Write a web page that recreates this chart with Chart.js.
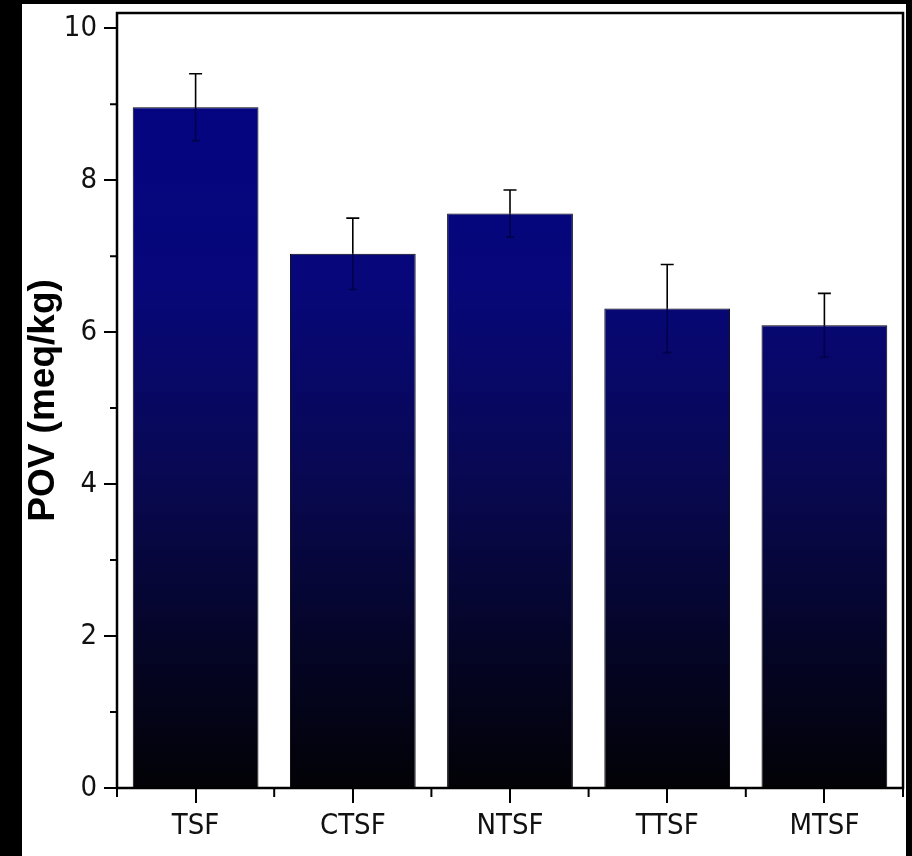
<!DOCTYPE html>
<html>
<head>
<meta charset="utf-8">
<script src="https://cdn.jsdelivr.net/npm/chart.js@4.4.0/dist/chart.umd.min.js"></script>
<style>
  html, body { margin: 0; padding: 0; background: #000; }
  body { width: 912px; height: 856px; position: relative; overflow: hidden; }
  .chart { position: absolute; left: 22px; top: 4px; width: 884px; height: 852px; background: #fff; }
</style>
</head>
<body>
<div class="chart"><canvas></canvas></div>
<script>
const categories = ['TSF', 'CTSF', 'NTSF', 'TTSF', 'MTSF']
const povValues = [8.96, 7.03, 7.56, 6.31, 6.09]
const povErrors = [0.44, 0.47, 0.31, 0.58, 0.42]
const yTicks = [0, 2, 4, 6, 8, 10]
const yMinorTicks = [1, 3, 5, 7, 9]

const canvas = document.querySelector('.chart canvas')
const canvasCtx = canvas.getContext('2d')

const tickFont = { family: '"DejaVu Sans Condensed", "Liberation Sans", Arial, sans-serif', size: 29 }

function barGradient(context) {
    const area = context.chart.chartArea
    if (!area) return '#050580'
    const g = context.chart.ctx.createLinearGradient(0, area.top, 0, area.bottom)
    g.addColorStop(0, '#030384')
    g.addColorStop(0.35, '#07077a')
    g.addColorStop(0.6, '#080852')
    g.addColorStop(0.8, '#05052a')
    g.addColorStop(1, '#020206')
    return g
}

// error bars, minor ticks and the box round the plot
const extras = {
    id: 'extras',
    afterDatasetsDraw(chart) {
        const ctx = chart.ctx
        const y = chart.scales.y
        const meta = chart.getDatasetMeta(0)
        ctx.save()
        ctx.lineWidth = 1.6
        meta.data.forEach((bar, i) => {
            const top = y.getPixelForValue(povValues[i] + povErrors[i])
            const bot = y.getPixelForValue(povValues[i] - povErrors[i])
            // upper half, black on white
            ctx.strokeStyle = '#000'
            ctx.beginPath()
            ctx.moveTo(bar.x, top)
            ctx.lineTo(bar.x, bar.y)
            ctx.moveTo(bar.x - 6.5, top)
            ctx.lineTo(bar.x + 6.5, top)
            ctx.stroke()
            // lower half sits inside the bar
            ctx.strokeStyle = '#02024a'
            ctx.beginPath()
            ctx.moveTo(bar.x, bar.y)
            ctx.lineTo(bar.x, bot)
            ctx.moveTo(bar.x - 4, bot)
            ctx.lineTo(bar.x + 4, bot)
            ctx.stroke()
        })
        ctx.restore()
    },
    afterDraw(chart) {
        const ctx = chart.ctx
        const a = chart.chartArea
        const x = chart.scales.x
        const y = chart.scales.y
        ctx.save()
        ctx.strokeStyle = '#000'
        ctx.lineWidth = 2
        ctx.beginPath()
        yMinorTicks.forEach(v => {
            const py = y.getPixelForValue(v)
            ctx.moveTo(a.left, py)
            ctx.lineTo(a.left - 7, py)
        })
        for (let i = 0; i <= categories.length; i++) {
            const px = x.getPixelForValue(i - 0.5)
            ctx.moveTo(px, a.bottom)
            ctx.lineTo(px, a.bottom + 9)
        }
        ctx.stroke()
        ctx.lineWidth = 2.5
        ctx.strokeRect(a.left, a.top, a.right - a.left, a.bottom - a.top)
        ctx.restore()
    }
}

const myChart = new Chart(canvasCtx, {
    type: 'bar',
    data: {
        labels: categories,
        datasets: [{
            data: povValues,
            backgroundColor: barGradient,
            borderColor: '#000',
            borderWidth: 1,
            barPercentage: 0.8,
            categoryPercentage: 1
        }]
    },
    plugins: [extras],
    options: {
        responsive: true,
        maintainAspectRatio: false,
        animation: false,
        layout: { padding: { top: 9, right: 3, left: 0, bottom: 0 } },
        plugins: {
            legend: { display: false },
            tooltip: { enabled: false }
        },
        scales: {
            x: {
                grid: { offset: false, drawOnChartArea: false, tickLength: 15, tickColor: '#000', lineWidth: 2 },
                border: { display: false },
                ticks: { font: tickFont, color: '#111', padding: 6, maxRotation: 0 },
                afterFit(s) { s.height = 68 }
            },
            y: {
                min: 0,
                max: 10.2,
                grid: { drawOnChartArea: false, tickLength: 13, tickColor: '#000', lineWidth: 2 },
                border: { display: false },
                ticks: { font: tickFont, color: '#111', padding: 7 },
                afterBuildTicks(s) { s.ticks = yTicks.map(v => ({ value: v })) },
                afterFit(s) {
                    s.width = 95
                    s.paddingTop = 0
                    s.paddingBottom = 0
                },
                title: {
                    display: true,
                    text: 'POV (meq/kg)',
                    color: '#000',
                    padding: 0,
                    font: { family: '"Liberation Sans", Arial, sans-serif', weight: 'bold', size: 37 }
                }
            }
        }
    }
})
</script>
</body>
</html>
